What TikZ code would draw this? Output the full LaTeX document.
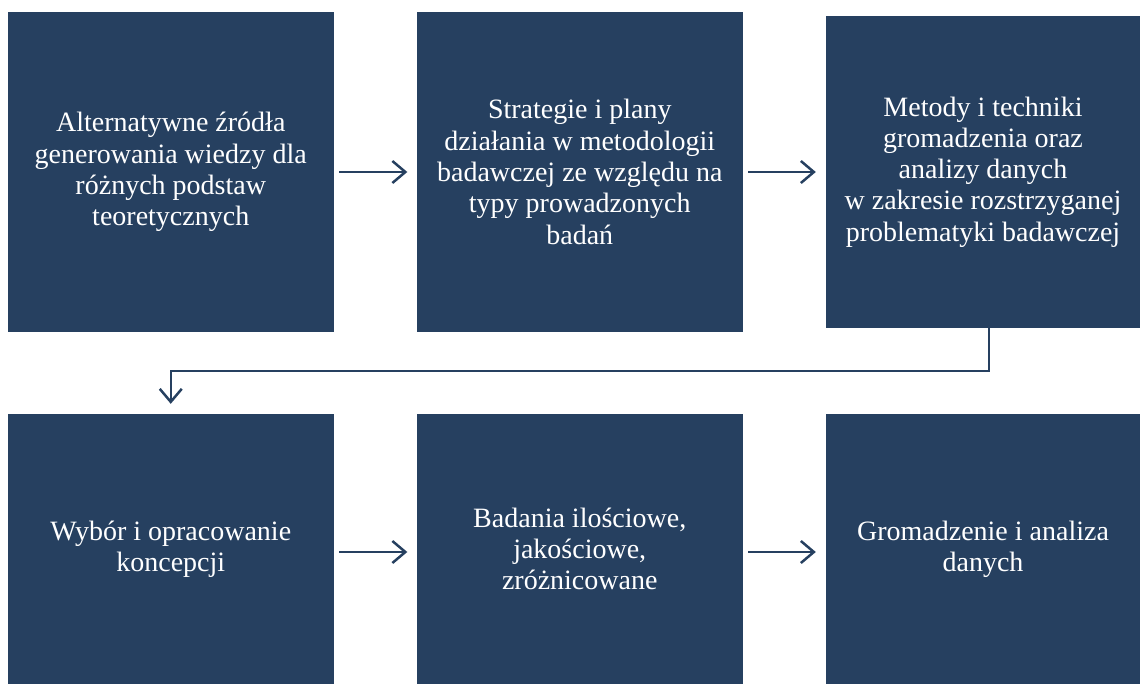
\documentclass[tikz,border=0pt]{standalone}
\usepackage{fontspec}
\setmainfont{Liberation Serif}
\usetikzlibrary{arrows.meta}
\definecolor{boxblue}{RGB}{38,64,96}
\begin{document}
\begin{tikzpicture}[x=1pt,y=-1pt,
  box/.style={fill=boxblue,draw=none,text=white,align=center,inner sep=0pt,
    font=\fontsize{28}{31.3}\selectfont},
  link/.style={draw=boxblue,line width=2.3pt,
    -{Straight Barb[length=13pt,width=22pt,line width=2.5pt]}}]
\useasboundingbox (0,0) rectangle (1140,684);
% top row
\node[box,minimum width=326.5pt,minimum height=320pt] (b1) at (170.75,172)
  {Alternatywne źródła\\generowania wiedzy dla\\różnych podstaw\\teoretycznych};
\node[box,minimum width=326.5pt,minimum height=320pt] (b2) at (579.75,172)
  {Strategie i plany\\działania w metodologii\\badawczej ze względu na\\typy prowadzonych\\badań};
\node[box,minimum width=314pt,minimum height=312pt] (b3) at (983,172)
  {Metody i techniki\\gromadzenia oraz\\analizy danych\\w zakresie rozstrzyganej\\problematyki badawczej};
% bottom row
\node[box,minimum width=326.5pt,minimum height=270pt] (b4) at (170.75,549)
  {Wybór i opracowanie\\koncepcji};
\node[box,minimum width=326.5pt,minimum height=270pt] (b5) at (579.75,549)
  {Badania ilościowe,\\jakościowe,\\zróżnicowane};
\node[box,minimum width=314pt,minimum height=270pt] (b6) at (983,549)
  {Gromadzenie i analiza\\danych};
% connectors
\draw[link,shorten <=5pt,shorten >=9pt] (b1.east) -- (b2.west);
\draw[link,shorten <=5pt,shorten >=10pt] (b2.east) -- (b3.west);
\draw[link,shorten >=10pt] ([xshift=6pt]b3.south) -- ++(0,43) -| (b4.north);
\draw[link,shorten <=5pt,shorten >=9pt] ([yshift=-3pt]b4.east) -- ([yshift=-3pt]b5.west);
\draw[link,shorten <=5pt,shorten >=10pt] ([yshift=-3pt]b5.east) -- ([yshift=-3pt]b6.west);
\end{tikzpicture}
\end{document}
